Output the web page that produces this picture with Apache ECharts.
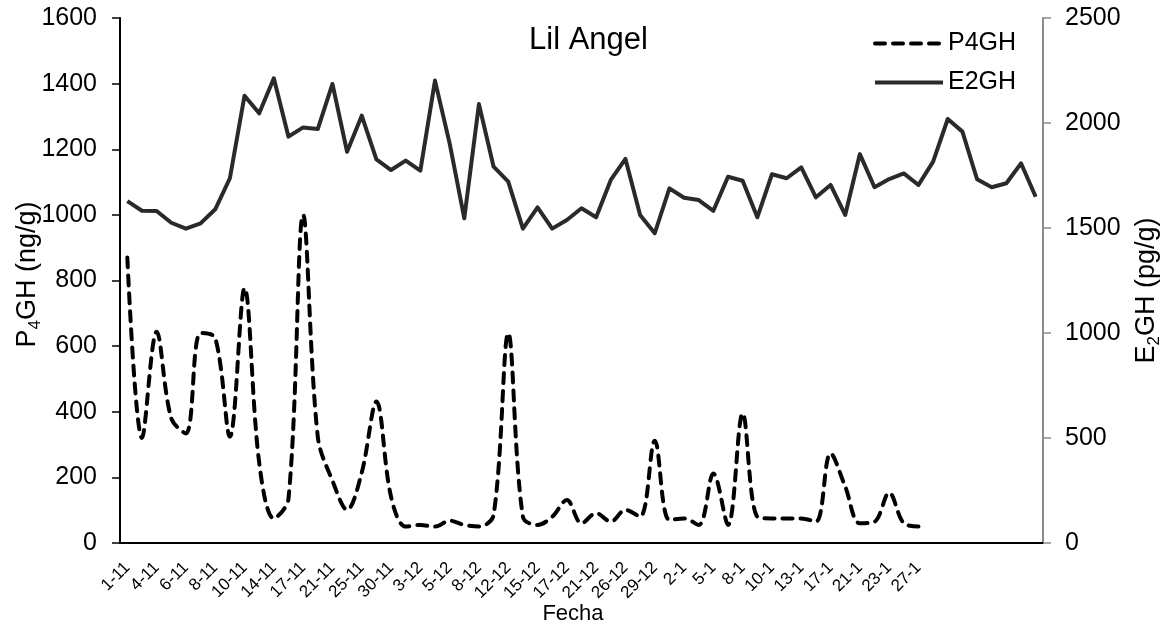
<!DOCTYPE html>
<html>
<head>
<meta charset="utf-8">
<script src="https://cdn.jsdelivr.net/npm/echarts@6/dist/echarts.min.js"></script>
<style>
  html, body { margin: 0; padding: 0; background: #fff; }
  #chart { width: 1172px; height: 627px; }
</style>
</head>
<body>
<div id="chart"></div>
<script>
// Sampling dates shown on the axis (one label every second sample)
const tickLabels = ['1-11','4-11','6-11','8-11','10-11','14-11','17-11','21-11','25-11','30-11',
  '3-12','5-12','8-12','12-12','15-12','17-12','21-12','26-12','29-12','2-1',
  '5-1','8-1','10-1','13-1','17-1','21-1','23-1','27-1'];

// Progesterone in hair (ng/g)
const p4GH = [870, 320, 644, 380, 334, 640, 625, 324, 777, 245,
  75, 135, 1000, 324, 190, 101, 215, 431, 141, 50,
  55, 50, 68, 55, 50, 85, 639, 80, 55, 80,
  131, 60, 91, 65, 101, 80, 312, 70, 75, 55,
  212, 55, 395, 80, 75, 75, 75, 65, 273, 172,
  60, 65, 153, 60, 50];

// Estradiol in hair (pg/g)
const e2GH = [1628, 1582, 1581, 1525, 1497, 1522, 1589, 1737, 2130, 2046,
  2213, 1935, 1979, 1971, 2186, 1863, 2035, 1827, 1776, 1821,
  1773, 2202, 1903, 1546, 2090, 1792, 1721, 1497, 1598, 1497,
  1538, 1594, 1551, 1729, 1829, 1562, 1475, 1689, 1644, 1633,
  1582, 1744, 1725, 1551, 1756, 1737, 1789, 1646, 1705, 1562,
  1852, 1694, 1733, 1760, 1705, 1816, 2019, 1959, 1732, 1694,
  1713, 1808, 1649];

const leftAxisMax = 1600, leftAxisStep = 200;
const rightAxisMax = 2500, rightAxisStep = 500;

const sampleCount = Math.max(p4GH.length, e2GH.length);
const categories = Array.from({ length: sampleCount }, (_, i) => String(i));

const FONT = '"Liberation Sans", Arial, sans-serif';
const plainNumber = (v) => String(v);

const p4Line = { color: '#000', width: 4, type: [10, 8], cap: 'round', join: 'round' };
const e2Line = { color: '#2a2a2a', width: 4, join: 'round' };

const chart = echarts.init(document.getElementById('chart'), null, { renderer: 'canvas' });

chart.setOption({
  animation: false,
  backgroundColor: '#ffffff',
  title: {
    text: 'Lil Angel',
    left: 529,
    top: 25,
    padding: 0,
    textStyle: { fontFamily: FONT, fontSize: 31, fontWeight: 'normal', color: '#000' }
  },
  legend: {
    orient: 'vertical',
    left: 873,
    top: 31,
    padding: 0,
    itemWidth: 68,
    itemHeight: 14,
    itemGap: 14,
    itemStyle: { opacity: 0 },
    textStyle: { fontFamily: FONT, fontSize: 25, color: '#000' },
    data: [
      { name: 'P4GH', lineStyle: p4Line },
      { name: 'E2GH', lineStyle: e2Line }
    ]
  },
  grid: { left: 120, right: 129, top: 18, bottom: 84, containLabel: false, outerBoundsMode: 'none' },
  xAxis: {
    type: 'category',
    data: categories,
    boundaryGap: true,
    name: 'Fecha',
    nameLocation: 'middle',
    nameGap: 60,
    nameMoveOverlap: false,
    nameTextStyle: { fontFamily: FONT, fontSize: 22, color: '#000', padding: [0, 17, 0, 0] },
    axisLine: { show: true, lineStyle: { color: '#000', width: 2 } },
    axisTick: { show: false },
    axisLabel: {
      interval: 1,
      rotate: 45,
      margin: 22,
      fontFamily: FONT,
      fontSize: 17,
      color: '#000',
      formatter: (value, index) => tickLabels[index / 2] || ''
    },
    splitLine: { show: false }
  },
  yAxis: [
    {
      type: 'value',
      position: 'left',
      min: 0,
      max: leftAxisMax,
      interval: leftAxisStep,
      name: 'P{sub|4}GH (ng/g)',
      nameLocation: 'middle',
      nameRotate: 90,
      nameGap: 76,
      nameMoveOverlap: false,
      nameTextStyle: {
        fontFamily: FONT, fontSize: 27, color: '#000', lineHeight: 32, padding: [0, 0, 0, 12],
        rich: {
          sub: { fontFamily: FONT, fontSize: 17, color: '#000', verticalAlign: 'bottom' }
        }
      },
      axisLine: { show: true, onZero: false, lineStyle: { color: '#000', width: 2 } },
      axisTick: { show: true, inside: false, length: 8, lineStyle: { color: '#000', width: 1.5 } },
      axisLabel: { margin: 23, fontFamily: FONT, fontSize: 25, color: '#000', formatter: plainNumber },
      splitLine: { show: false }
    },
    {
      type: 'value',
      position: 'right',
      min: 0,
      max: rightAxisMax,
      interval: rightAxisStep,
      name: 'E{sub|2}GH (pg/g)',
      nameLocation: 'middle',
      nameRotate: 90,
      nameGap: 88,
      nameMoveOverlap: false,
      nameTextStyle: {
        fontFamily: FONT, fontSize: 27, color: '#000', lineHeight: 32, padding: [0, 20, 0, 0],
        rich: {
          sub: { fontFamily: FONT, fontSize: 17, color: '#000', verticalAlign: 'bottom' }
        }
      },
      axisLine: { show: true, onZero: false, lineStyle: { color: '#8c8c8c', width: 2 } },
      axisTick: { show: true, inside: false, length: 8, lineStyle: { color: '#8c8c8c', width: 1.5 } },
      axisLabel: { margin: 22, fontFamily: FONT, fontSize: 25, color: '#000', formatter: plainNumber },
      splitLine: { show: false }
    }
  ],
  series: [
    {
      name: 'P4GH',
      type: 'line',
      yAxisIndex: 0,
      data: p4GH,
      smooth: 0.35,
      symbol: 'none',
      lineStyle: p4Line,
      itemStyle: { color: '#000' },
      z: 3
    },
    {
      name: 'E2GH',
      type: 'line',
      yAxisIndex: 1,
      data: e2GH,
      smooth: false,
      symbol: 'none',
      lineStyle: e2Line,
      itemStyle: { color: '#2a2a2a' },
      z: 2
    }
  ]
});
</script>
</body>
</html>
